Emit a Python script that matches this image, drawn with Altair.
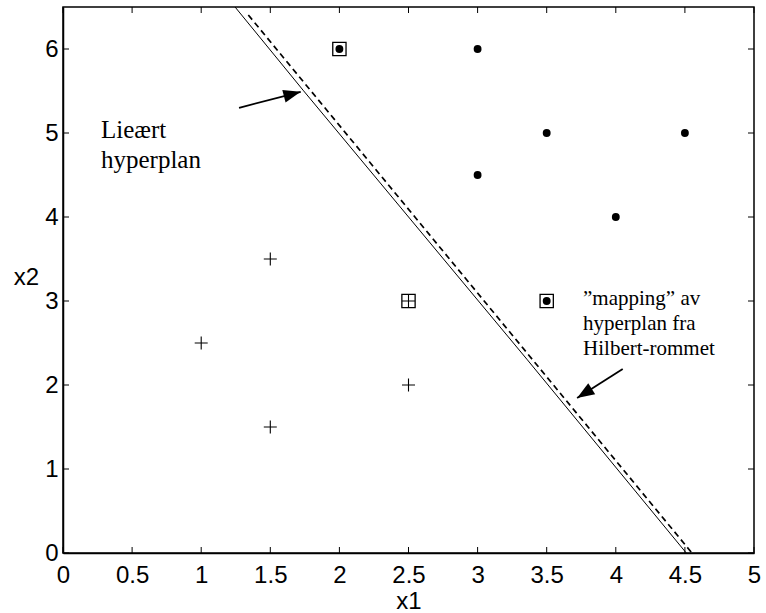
import math
import altair as alt
import pandas as pd

W, H = 691, 546
XMAX, YMAX = 5.0, 6.5

# class "+" samples
plus_x = [1.0, 1.5, 1.5, 2.5, 2.5]
plus_y = [2.5, 3.5, 1.5, 2.0, 3.0]
# class "dot" samples
dot_x = [2.0, 3.0, 3.5, 4.5, 3.0, 4.0, 3.5]
dot_y = [6.0, 6.0, 5.0, 5.0, 4.5, 4.0, 3.0]
# support vectors (boxed)
sv_x = [2.5, 2.0, 3.5]
sv_y = [3.0, 6.0, 3.0]
# learned hyperplane (solid)
solid_x = [1.245, 1.737, 3.36, 4.51]
solid_y = [6.5, 5.51, 2.3, 0.0]
# mapped hyperplane from Hilbert space (dashed)
dash_x = [1.341, 4.551]
dash_y = [6.405, 0.0]
# arrows: tail -> tip
arrow_x = [1.274, 4.05]
arrow_y = [5.30, 2.19]
arrow_tx = [1.72, 3.72]
arrow_ty = [5.49, 1.845]
# annotation lines
ann1_text = ["Lieært", "hyperplan"]
ann1_x = [0.275, 0.275]
ann1_y = [4.94, 4.583]
ann2_text = ["\u201dmapping\u201d av", "hyperplan fra", "Hilbert-rommet"]
ann2_x = [3.763, 3.763, 3.763]
ann2_y = [2.952, 2.655, 2.357]
# ticks
xticks = [0, 0.5, 1, 1.5, 2, 2.5, 3, 3.5, 4, 4.5, 5]
yticks = [0, 1, 2, 3, 4, 5, 6]

SANS = "Liberation Sans"
SERIF = "Liberation Serif"
FS = 24

xs = alt.Scale(domain=[0, XMAX], nice=False, zero=False)
ys = alt.Scale(domain=[0, YMAX], nice=False, zero=False)

xaxis = alt.Axis(values=xticks, format="~g", ticks=False, grid=False,
                 domainColor="black", domainWidth=1.5, labelFlush=False,
                 labelFont=SANS, labelFontSize=FS, labelColor="black",
                 labelPadding=10, title="x1", titleFont=SANS, titleFontSize=FS,
                 titleFontWeight="normal", titleColor="black",
                 titleY=55, titleBaseline="alphabetic")
yaxis = alt.Axis(values=yticks, format="~g", ticks=False, grid=False,
                 domainColor="black", domainWidth=1.5, labelFlush=False,
                 labelFont=SANS, labelFontSize=FS, labelColor="black",
                 labelPadding=5, title="x2", titleFont=SANS, titleFontSize=FS,
                 titleFontWeight="normal", titleColor="black", titleAngle=0,
                 titleX=-37, titleY=270, titleAlign="center", titleBaseline="middle")

X = lambda f: alt.X(f, type="quantitative", scale=xs, axis=xaxis)
Y = lambda f: alt.Y(f, type="quantitative", scale=ys, axis=yaxis)

solid = alt.Chart(pd.DataFrame({"x": solid_x, "y": solid_y, "o": range(len(solid_x))})).mark_line(
    color="black", strokeWidth=1).encode(x=X("x"), y=Y("y"), order="o:Q")
dashed = alt.Chart(pd.DataFrame({"x": dash_x, "y": dash_y})).mark_line(
    color="black", strokeWidth=1.7, strokeDash=[6, 4]).encode(x=X("x"), y=Y("y"))

plus_path = "M-1,0L1,0M0,-1L0,1"
pluses = alt.Chart(pd.DataFrame({"x": plus_x, "y": plus_y})).mark_point(
    shape=plus_path, filled=False, stroke="black", strokeWidth=1.1, size=169, opacity=1).encode(
    x=X("x"), y=Y("y"))
dots = alt.Chart(pd.DataFrame({"x": dot_x, "y": dot_y})).mark_point(
    shape="circle", filled=True, color="black", size=62, opacity=1).encode(x=X("x"), y=Y("y"))
boxes = alt.Chart(pd.DataFrame({"x": sv_x, "y": sv_y})).mark_point(
    shape="square", filled=False, stroke="black", strokeWidth=1.3, size=176, opacity=1).encode(
    x=X("x"), y=Y("y"))

sx, sy = W / XMAX, H / YMAX
angles = []
for x0, y0, x1, y1 in zip(arrow_x, arrow_y, arrow_tx, arrow_ty):
    dx = (x1 - x0) * sx
    dy = -(y1 - y0) * sy
    angles.append(math.degrees(math.atan2(dx, -dy)) % 360)
arr_df = pd.DataFrame({"x": arrow_x, "y": arrow_y, "x2": arrow_tx, "y2": arrow_ty, "a": angles})
shafts = alt.Chart(arr_df).mark_rule(color="black", strokeWidth=1.8).encode(
    x=X("x"), y=Y("y"), x2="x2", y2="y2")
head_path = "M0,0L0.75,2L-0.75,2Z"
heads = alt.Chart(arr_df).mark_point(shape=head_path, filled=True, color="black",
                                      size=300, opacity=1).encode(
    x=X("x2"), y=Y("y2"), angle=alt.Angle("a:Q", scale=None))

t1 = alt.Chart(pd.DataFrame({"x": ann1_x, "y": ann1_y, "t": ann1_text})).mark_text(
    font=SERIF, fontSize=25, align="left", baseline="alphabetic", color="black").encode(
    x=X("x"), y=Y("y"), text="t:N")
t2 = alt.Chart(pd.DataFrame({"x": ann2_x, "y": ann2_y, "t": ann2_text})).mark_text(
    font=SERIF, fontSize=21, align="left", baseline="alphabetic", color="black").encode(
    x=X("x"), y=Y("y"), text="t:N")

TL = 6
xt = pd.DataFrame({"v": xticks})
yt = pd.DataFrame({"v": yticks})
tick_style = dict(color="black", strokeWidth=1)
xt_bot = alt.Chart(xt).mark_rule(**tick_style).encode(x=X("v"), y=alt.value(H), y2=alt.value(H - TL))
xt_top = alt.Chart(xt).mark_rule(**tick_style).encode(x=X("v"), y=alt.value(0), y2=alt.value(TL))
yt_left = alt.Chart(yt).mark_rule(**tick_style).encode(y=Y("v"), x=alt.value(0), x2=alt.value(TL))
yt_right = alt.Chart(yt).mark_rule(**tick_style).encode(y=Y("v"), x=alt.value(W), x2=alt.value(W - TL))

chart = alt.layer(
    xt_bot, xt_top, yt_left, yt_right,
    solid, dashed, pluses, boxes, dots, shafts, heads, t1, t2
).properties(
    width=W, height=H,
    autosize=alt.AutoSizeParams(type="none"),
    padding={"left": 63, "top": 7, "right": 12, "bottom": 60},
    background="white",
).configure_view(stroke="black", strokeWidth=1.5)

chart.save("out.html", embed_options={"renderer": "svg", "actions": False})
